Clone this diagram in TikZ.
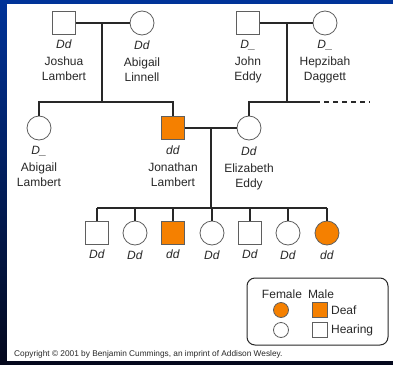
\documentclass[tikz,border=0pt]{standalone}
\usepackage{fontspec}
\setmainfont{Liberation Sans}
\usetikzlibrary{positioning}

\definecolor{deaf}{RGB}{245,128,0}
\definecolor{ink}{RGB}{40,40,40}
\definecolor{edge}{RGB}{95,95,95}
\definecolor{slide}{RGB}{0,51,153}
\definecolor{slidedark}{RGB}{4,8,28}

\tikzset{
  male/.style={draw=edge,line width=0.8pt,minimum size=23pt,inner sep=0pt,fill=white},
  female/.style={male,circle,minimum size=24pt},
  affected/.style={fill=deaf},
  tag/.style={font=\fontsize{12}{15}\selectfont,text=ink,align=center,inner sep=0pt},
  link/.style={line width=1.2pt,draw=ink},
}

\begin{document}
\begin{tikzpicture}[x=1pt,y=-1pt]
        \useasboundingbox (0,0) rectangle (393,364);
        \fill[top color=slide,bottom color=slidedark] (0,0) rectangle (393,364);
        \fill[white] (7,4) rectangle (393,361);

        \node[male] at (64,23) (joshua) {};
        \node[female] at (142,23) (linnell) {};
        \node[male] at (248,23) (john) {};
        \node[female] at (325,23) (hepzibah) {};

        \node[female] at (39,128) (abigail) {};
        \node[male,affected] at (173,128) (jonathan) {};
        \node[female] at (249,128) (elizabeth) {};

        \node[male] at (97,233) (kid1) {};
        \node[female] at (135,233) (kid2) {};
        \node[male,affected] at (173,233) (kid3) {};
        \node[female] at (212,233) (kid4) {};
        \node[male] at (250,233) (kid5) {};
        \node[female] at (288,233) (kid6) {};
        \node[female,affected] at (327,233) (kid7) {};

        \node[tag,below=5pt of joshua] (joshuaT) {\textit{Dd}\\[2pt]Joshua\\Lambert};
        \node[tag,below=5pt of linnell] (linnellT) {\textit{Dd}\\[2pt]Abigail\\Linnell};
        \node[tag,below=5pt of john] (johnT) {\textit{D\_}\\[2pt]John\\Eddy};
        \node[tag,below=5pt of hepzibah] (hepzibahT) {\textit{D\_}\\[2pt]Hepzibah\\Daggett};
        \node[tag,below=6pt of abigail] (abigailT) {\textit{D\_}\\[2pt]Abigail\\Lambert};
        \node[tag,below=6pt of jonathan] (jonathanT) {\textit{dd}\\[2pt]Jonathan\\Lambert};
        \node[tag,below=6pt of elizabeth] (elizabethT) {\textit{Dd}\\[2pt]Elizabeth\\Eddy};

        \node[tag,below=5pt of kid1] (kid1T) {\textit{Dd}};
        \node[tag,below=5pt of kid2] (kid2T) {\textit{Dd}};
        \node[tag,below=5pt of kid3] (kid3T) {\textit{dd}};
        \node[tag,below=5pt of kid4] (kid4T) {\textit{Dd}};
        \node[tag,below=5pt of kid5] (kid5T) {\textit{Dd}};
        \node[tag,below=5pt of kid6] (kid6T) {\textit{Dd}};
        \node[tag,below=5pt of kid7] (kid7T) {\textit{dd}};

        \coordinate (lambertM) at (102,23);
        \coordinate (lambertS) at (102,102);
        \coordinate (eddyM) at (287,23);
        \coordinate (eddyS) at (287,102);
        \coordinate (dashA) at (315,102);
        \coordinate (dashB) at (370,102);
        \coordinate (coupleM) at (211,128);
        \coordinate (kids) at (211,208);

        \draw[link] (joshua) -- (linnell);
        \draw[link] (lambertM) -- (lambertS);
        \draw[link] (abigail.north) -- (abigail.north |- lambertS) -| (jonathan.north);
        \draw[link] (john) -- (hepzibah);
        \draw[link] (eddyM) -- (eddyS);
        \draw[link] (elizabeth.north) |- (dashA);
        \draw[link,dash pattern=on 5pt off 4pt] (dashA) -- (dashB);
        \draw[link] (jonathan) -- (elizabeth);
        \draw[link] (coupleM) -- (kids);
        \draw[link] (kid1.north |- kids) -- (kid7.north |- kids);
        \draw[link] (kid1.north) -- (kid1.north |- kids);
        \draw[link] (kid2.north) -- (kid2.north |- kids);
        \draw[link] (kid3.north) -- (kid3.north |- kids);
        \draw[link] (kid4.north) -- (kid4.north |- kids);
        \draw[link] (kid5.north) -- (kid5.north |- kids);
        \draw[link] (kid6.north) -- (kid6.north |- kids);
        \draw[link] (kid7.north) -- (kid7.north |- kids);

        \node[draw=ink,line width=1pt,rounded corners=8pt,minimum width=141pt,minimum height=67pt] at (317.5,311.5) (legend) {};
        \node[tag] at (282,294) (femaleT) {Female};
        \node[tag] at (321,294) (maleT) {Male};
        \node[female,affected,minimum size=15pt] at (281,310) (keyFD) {};
        \node[male,affected,minimum size=15pt] at (320,310) (keyMD) {};
        \node[female,minimum size=15pt] at (281,330) (keyFH) {};
        \node[male,minimum size=15pt] at (320,330) (keyMH) {};
        \node[tag,right=3pt of keyMD] (deafT) {Deaf};
        \node[tag,right=3pt of keyMH] (hearingT) {Hearing};

        \node[font=\fontsize{8.3}{9}\selectfont,text=ink,anchor=west,inner sep=0pt] at (14,354) (copyT) {Copyright © 2001 by Benjamin Cummings, an imprint of Addison Wesley.};
    \end{tikzpicture}
\end{document}
